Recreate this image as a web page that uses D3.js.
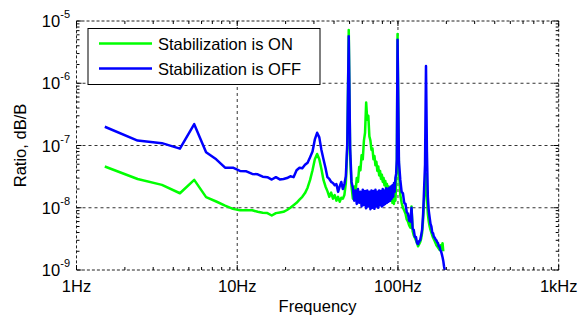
<!DOCTYPE html>
<html>
<head>
<meta charset="utf-8">
<script src="https://cdn.jsdelivr.net/npm/d3@7"></script>
<style>
  body { margin: 0; background: #fff; }
  svg { display: block; font-family: "Liberation Sans", Arial, sans-serif; }
</style>
</head>
<body>
<div id="chart"></div>
<script>
// frequency bins, Hz
const freqs = [
  1.5, 2.4, 3.4, 4.4, 5.4, 6.4, 7.4, 8.4, 9.4, 10.4,
  11.4, 12.4, 13.4, 14.4, 15.4, 16.4, 17.4, 18.4, 19.4, 20.4,
  21.4, 22.4, 23.4, 24.4, 25.4, 26.4, 27.4, 28.4, 29.4, 30.4,
  31.4, 32.4, 33.4, 34.4, 35.4, 36.4, 37.4, 38.4, 39.4, 40.4,
  41.4, 42.4, 43.4, 44.4, 45.4, 46.4, 47.4, 48.4, 49.4, 50.4,
  51.4, 52.4, 53.4, 54.4, 55.4, 56.4, 57.4, 58.4, 59.4, 60.4,
  61.4, 62.4, 63.4, 64.4, 65.4, 66.4, 67.4, 68.4, 69.4, 70.4,
  71.4, 72.4, 73.4, 74.4, 75.4, 76.4, 77.4, 78.4, 79.4, 80.4,
  81.4, 82.4, 83.4, 84.4, 85.4, 86.4, 87.4, 88.4, 89.4, 90.4,
  91.4, 92.4, 93.4, 94.4, 95.4, 96.4, 97.4, 98.4, 99.4,
  101.4, 103.4, 105.4, 107.4, 109.4, 111.4, 113.4, 115.4, 117.4, 119.4,
  121.4, 123.4, 125.4, 127.4, 129.4, 131.4, 133.4, 135.4, 137.4, 139.4,
  141.4, 143.4, 145.4, 147.4, 149.4, 151.4, 153.4, 155.4, 157.4, 159.4,
  161.4, 163.4, 165.4, 167.4, 169.4, 171.4, 173.4, 175.4, 177.4, 179.4,
  181.4, 183.4, 185.4, 187.4, 189.4, 191.4, 193.4, 195.4
];

// Stabilization is ON (green)
const ratioOn = [
  4.6e-8, 2.9e-8, 2.33e-8, 1.71e-8, 2.8e-8, 1.48e-8, 1.26e-8, 1.08e-8, 9.6e-9, 9.1e-9,
  9.1e-9, 9.1e-9, 8.6e-9, 8.3e-9, 8.2e-9, 7.5e-9, 8.2e-9, 8.4e-9, 8.6e-9, 9.2e-9,
  1.0e-8, 1.1e-8, 1.2e-8, 1.35e-8, 1.5e-8, 1.72e-8, 2.1e-8, 2.8e-8, 4.0e-8, 6.0e-8,
  7.3e-8, 6.0e-8, 4.2e-8, 2.8e-8, 2.2e-8, 1.85e-8, 1.5e-8, 1.75e-8, 1.4e-8, 1.6e-8,
  1.3e-8, 1.5e-8, 1.25e-8, 1.45e-8, 1.4e-8, 1.6e-8, 2.5e-8, 9e-8, 7.2e-6, 7e-8,
  2.2e-8, 1.4e-8, 2.2e-8, 1.7e-8, 3.0e-8, 2.6e-8, 4.5e-8, 4.0e-8, 7.0e-8, 6.0e-8,
  1.2e-7, 1.6e-7, 4.9e-7, 2.6e-7, 3.0e-7, 1.4e-7, 1.2e-7, 8.5e-8, 9.0e-8, 6.0e-8,
  6.8e-8, 4.8e-8, 5.5e-8, 3.9e-8, 4.6e-8, 3.3e-8, 3.9e-8, 2.9e-8, 3.4e-8, 2.6e-8,
  3.0e-8, 2.3e-8, 2.7e-8, 2.0e-8, 2.4e-8, 1.7e-8, 2.2e-8, 1.4e-8, 2.0e-8, 1.3e-8,
  1.9e-8, 1.2e-8, 1.8e-8, 1.15e-8, 1.7e-8, 1.3e-8, 2.5e-8, 5e-8, 6.2e-6,
  4e-8, 1.6e-8, 1.2e-8, 1.0e-8, 9e-9, 8e-9, 6.5e-9, 6.0e-9, 5.2e-9, 4.8e-9,
  1.05e-8, 4.2e-9, 3.6e-9, 3.3e-9, 3.0e-9, 2.7e-9, 2.4e-9, 2.6e-9, 2.8e-9, 3.2e-9,
  4.0e-9, 6.5e-9, 1.3e-8, 2.5e-8, 3.5e-8, 1.5e-8, 8e-9, 6e-9, 5e-9, 4.4e-9,
  4.0e-9, 3.6e-9, 3.3e-9, 3.1e-9, 2.9e-9, 2.7e-9, 2.5e-9, 2.4e-9, 2.3e-9, 2.2e-9,
  2.1e-9, 2.5e-9, 2.2e-9, 2.4e-9, 2.7e-9, 2.0e-9, null, null
];

// Stabilization is OFF (blue)
const ratioOff = [
  2.0e-7, 1.2e-7, 1.09e-7, 8.9e-8, 2.2e-7, 7.8e-8, 6.0e-8, 4.4e-8, 4.4e-8, 3.9e-8,
  3.85e-8, 3.5e-8, 3.45e-8, 3.15e-8, 3.1e-8, 2.84e-8, 3.1e-8, 2.85e-8, 2.9e-8, 3.0e-8,
  3.2e-8, 3.1e-8, 4.0e-8, 4.4e-8, 4.3e-8, 4.9e-8, 5.3e-8, 6.5e-8, 8.0e-8, 1.25e-7,
  1.6e-7, 1.35e-7, 8.5e-8, 6.0e-8, 4.4e-8, 3.1e-8, 2.9e-8, 2.6e-8, 2.5e-8, 2.3e-8,
  2.4e-8, 1.8e-8, 2.2e-8, 2.6e-8, 2.0e-8, 2.4e-8, 3.2e-8, 1.1e-7, 5.7e-6, 9e-8,
  2.6e-8, 2.1e-8, 1.3e-8, 1.9e-8, 1.15e-8, 2.0e-8, 1.2e-8, 1.8e-8, 1.05e-8, 1.95e-8,
  1.1e-8, 1.85e-8, 9.8e-9, 1.9e-8, 1.05e-8, 1.8e-8, 9.5e-9, 1.9e-8, 1.0e-8, 1.85e-8,
  9.6e-9, 1.95e-8, 1.05e-8, 1.8e-8, 1.0e-8, 1.9e-8, 1.1e-8, 1.85e-8, 1.05e-8, 2.0e-8,
  1.1e-8, 1.9e-8, 1.15e-8, 2.05e-8, 1.2e-8, 2.0e-8, 1.25e-8, 2.1e-8, 1.3e-8, 2.2e-8,
  1.4e-8, 2.3e-8, 1.5e-8, 2.5e-8, 1.8e-8, 3.0e-8, 3.5e-8, 6e-8, 5.0e-6,
  5.5e-8, 2.8e-8, 1.8e-8, 1.7e-8, 1.2e-8, 1.15e-8, 8.5e-9, 8.0e-9, 6.2e-9, 6.0e-9,
  1.0e-8, 4.6e-9, 4.4e-9, 3.4e-9, 3.4e-9, 2.7e-9, 2.6e-9, 2.9e-9, 3.0e-9, 3.6e-9,
  4.5e-9, 8e-9, 2.0e-8, 5e-8, 1.9e-6, 8e-8, 1.5e-8, 9e-9, 7e-9, 5.5e-9,
  5.0e-9, 4.0e-9, 3.9e-9, 3.4e-9, 3.3e-9, 3.1e-9, 3.0e-9, 2.8e-9, 2.7e-9, 2.4e-9,
  2.4e-9, 2.1e-9, 2.0e-9, 1.8e-9, 1.6e-9, 1.4e-9, 1.15e-9, 1.0e-9
];

const xTickValues = [1, 10, 100, 1000];
const xTickLabels = ["1Hz", "10Hz", "100Hz", "1kHz"];
const yTickExponents = [-5, -6, -7, -8, -9];
const legendLabels = ["Stabilization is ON", "Stabilization is OFF"];
const seriesColors = ["#00ff00", "#0000ff"];

const width = 583;
const height = 323;
const marginTop = 21;
const marginRight = 24.3;
const marginBottom = 53;
const marginLeft = 76.5;

const x = d3.scaleLog()
    .domain([1, 1000])
    .range([marginLeft, width - marginRight]);

const y = d3.scaleLog()
    .domain([1e-9, 1e-5])
    .range([height - marginBottom, marginTop]);

const svg = d3.select("#chart").append("svg")
    .attr("width", width)
    .attr("height", height)
    .attr("viewBox", [0, 0, width, height]);

const x0 = marginLeft, x1 = width - marginRight;
const y0 = height - marginBottom, y1 = marginTop;

// grid lines (dotted) at major decades
const grid = svg.append("g")
    .attr("stroke", "#333")
    .attr("stroke-width", 1)
    .attr("stroke-dasharray", "3,3");

grid.selectAll(".gx")
    .data(xTickValues.slice(1, -1))
    .join("line")
    .attr("x1", d => x(d)).attr("x2", d => x(d))
    .attr("y1", y0).attr("y2", y1);

grid.selectAll(".gy")
    .data(yTickExponents.slice(1, -1))
    .join("line")
    .attr("x1", x0).attr("x2", x1)
    .attr("y1", d => y(Math.pow(10, d))).attr("y2", d => y(Math.pow(10, d)));

// data lines
const series = [ratioOn, ratioOff].map((vals, i) => ({
    key: legendLabels[i],
    color: seriesColors[i],
    values: freqs.map((f, j) => ({ f, v: vals[j] }))
}));

const line = d3.line()
    .defined(d => d.v !== null)
    .x(d => x(d.f))
    .y(d => y(d.v));

svg.append("g")
    .selectAll("path")
    .data(series)
    .join("path")
    .attr("fill", "none")
    .attr("stroke", d => d.color)
    .attr("stroke-width", 2.5)
    .attr("stroke-linejoin", "round")
    .attr("d", d => line(d.values));

// box (dotted)
svg.append("rect")
    .attr("x", x0).attr("y", y1)
    .attr("width", x1 - x0).attr("height", y0 - y1)
    .attr("fill", "none")
    .attr("stroke", "#222")
    .attr("stroke-width", 1)
    .attr("stroke-dasharray", "3,2");

// ticks, inward on all four sides
const xMinor = x.ticks().filter(d => !xTickValues.includes(d));
const yMinor = y.ticks().filter(d => !yTickExponents.map(e => Math.pow(10, e)).some(m => Math.abs(m - d) / m < 1e-6));
const ticks = svg.append("g").attr("stroke", "#000").attr("stroke-width", 1);

[[y0, -1], [y1, 1]].forEach(([yy, dir]) => {
    ticks.selectAll(null).data(xTickValues).join("line")
        .attr("x1", d => x(d)).attr("x2", d => x(d))
        .attr("y1", yy).attr("y2", yy + dir * 5);
    ticks.selectAll(null).data(xMinor).join("line")
        .attr("x1", d => x(d)).attr("x2", d => x(d))
        .attr("y1", yy).attr("y2", yy + dir * 3);
});
[[x0, 1], [x1, -1]].forEach(([xx, dir]) => {
    ticks.selectAll(null).data(yTickExponents).join("line")
        .attr("y1", d => y(Math.pow(10, d))).attr("y2", d => y(Math.pow(10, d)))
        .attr("x1", xx).attr("x2", xx + dir * 5);
    ticks.selectAll(null).data(yMinor).join("line")
        .attr("y1", d => y(d)).attr("y2", d => y(d))
        .attr("x1", xx).attr("x2", xx + dir * 3);
});

// tick labels
svg.append("g")
    .attr("font-size", "16.5px")
    .attr("text-anchor", "middle")
    .selectAll("text")
    .data(xTickValues)
    .join("text")
    .attr("x", d => x(d))
    .attr("y", 292)
    .text((d, i) => xTickLabels[i]);

const yLabels = svg.append("g")
    .attr("font-size", "16.5px")
    .attr("text-anchor", "end")
    .selectAll("text")
    .data(yTickExponents)
    .join("text")
    .attr("x", 70)
    .attr("y", d => y(Math.pow(10, d)) + 6);

yLabels.append("tspan").text("10");
yLabels.append("tspan")
    .attr("dy", -9)
    .attr("font-size", "11px")
    .text(d => "-" + Math.abs(d));

// axis titles
svg.append("text")
    .attr("x", (x0 + x1) / 2)
    .attr("y", 312)
    .attr("text-anchor", "middle")
    .attr("font-size", "16.5px")
    .text("Frequency");

svg.append("text")
    .attr("transform", `translate(26,${(y0 + y1) / 2}) rotate(-90)`)
    .attr("text-anchor", "middle")
    .attr("font-size", "16.5px")
    .text("Ratio, dB/B");

// legend
const legend = svg.append("g");
legend.append("rect")
    .attr("x", 88).attr("y", 28.5)
    .attr("width", 232).attr("height", 56)
    .attr("fill", "#fff")
    .attr("stroke", "#000")
    .attr("stroke-width", 1);

const item = legend.selectAll("g")
    .data(series)
    .join("g")
    .attr("transform", (d, i) => `translate(0,${43.5 + i * 25})`);

item.append("line")
    .attr("x1", 99).attr("x2", 152)
    .attr("stroke", d => d.color)
    .attr("stroke-width", 2.5);

item.append("text")
    .attr("x", 158)
    .attr("y", 6.5)
    .attr("font-size", "16.5px")
    .text(d => d.key);
</script>
</body>
</html>
